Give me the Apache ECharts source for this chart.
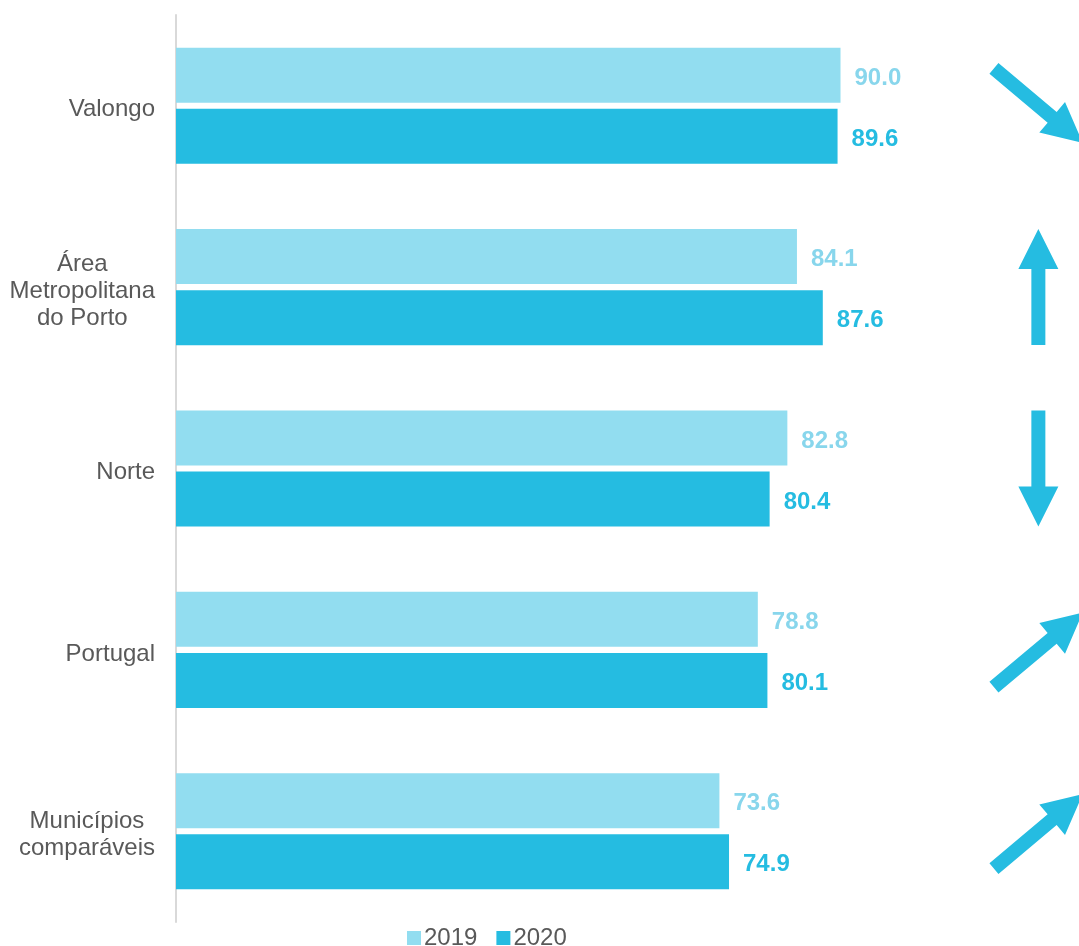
<!DOCTYPE html>
<html>
<head>
<meta charset="utf-8">
<script src="https://cdn.jsdelivr.net/npm/echarts@6/dist/echarts.min.js"></script>
<style>
  html, body { margin: 0; padding: 0; background: #fff; }
  #chart { width: 1079px; height: 946px; }
</style>
</head>
<body>
<div id="chart"></div>
<script>
  // categorias (de cima para baixo)
  var categories = ['Valongo', 'Área\nMetropolitana\ndo Porto', 'Norte', 'Portugal', 'Municípios\ncomparáveis'];
  var values2019 = [90.0, 84.1, 82.8, 78.8, 73.6];
  var values2020 = [89.6, 87.6, 80.4, 80.1, 74.9];
  // tendência: seta ligeira (diagonal) ou forte (vertical)
  var trends = ['slightDown', 'up', 'down', 'slightUp', 'slightUp'];
  var seriesNames = ['2019', '2020'];

  var light = '#92DDF0';
  var lightText = '#88D6EC';
  var dark = '#25BCE1';
  var textGray = '#595959';

  var arrowAngle = { up: 90, down: -90, slightUp: 40, slightDown: -40 };
  var arrowPath = 'path://M0,13 L76,13 L76,0 L116,20 L76,40 L76,27 L0,27 Z';

  var chart = echarts.init(document.getElementById('chart'));

  var option = {
    animation: false,
    textStyle: { fontFamily: 'Liberation Sans, Arial, sans-serif' },
    legend: {
      data: seriesNames,
      left: 402,
      top: 921,
      itemWidth: 14,
      itemHeight: 14,
      itemGap: 19,
      icon: 'rect',
      textStyle: { fontSize: 24, color: textGray, padding: [0, 0, 0, -2] }
    },
    grid: { left: 176, right: 0, top: 15, bottom: 24, containLabel: false },
    xAxis: [
      { type: 'value', min: 0, max: 122.3, show: false },
      { type: 'value', min: 0, max: 1, show: false }
    ],
    yAxis: {
      type: 'category',
      inverse: true,
      data: categories,
      axisLine: { show: true, lineStyle: { color: '#d9d9d9', width: 2 } },
      axisTick: { show: false },
      splitLine: { show: false },
      axisLabel: {
        margin: 21,
        color: textGray,
        fontSize: 24,
        lineHeight: 27,
        padding: [8, 0, 0, 0],
        formatter: function (v) {
          return v.split('\n').map(function (s) { return '{c|' + s + '}'; }).join('\n');
        },
        rich: { c: { align: 'center', fontSize: 24, color: textGray, lineHeight: 27 } }
      }
    },
    series: [
      {
        name: seriesNames[0],
        type: 'bar',
        data: values2019,
        barCategoryGap: '36%',
        barGap: '11%',
        itemStyle: { color: light },
        label: {
          show: true, position: 'right', distance: 14, offset: [0, 3],
          color: lightText, fontSize: 24, fontWeight: 'bold',
          formatter: function (p) { return p.value.toFixed(1); }
        }
      },
      {
        name: seriesNames[1],
        type: 'bar',
        data: values2020,
        itemStyle: { color: dark },
        label: {
          show: true, position: 'right', distance: 14, offset: [0, 3],
          color: dark, fontSize: 24, fontWeight: 'bold',
          formatter: function (p) { return p.value.toFixed(1); }
        }
      },
      {
        name: 'tendencia',
        type: 'scatter',
        xAxisIndex: 1,
        symbol: arrowPath,
        symbolSize: [116, 40],
        itemStyle: { color: dark, opacity: 1 },
        silent: true,
        data: trends.map(function (t, i) {
          return { value: [0.955, categories[i]], symbolRotate: arrowAngle[t] };
        })
      }
    ]
  };

  chart.setOption(option);
</script>
</body>
</html>
